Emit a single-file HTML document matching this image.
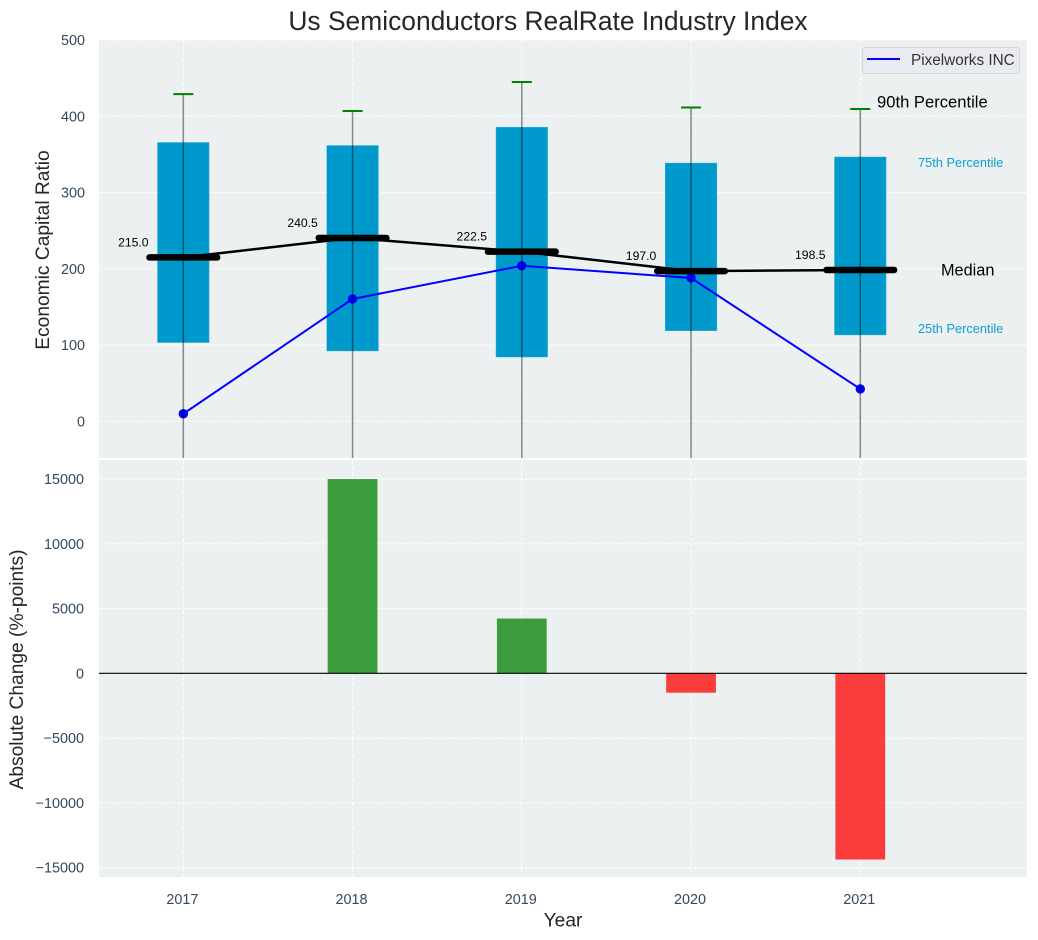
<!DOCTYPE html>
<html lang="en">
<head>
<meta charset="utf-8">
<title>Us Semiconductors RealRate Industry Index</title>
<style>
html,body{margin:0;padding:0;background:#fff;}
svg{display:block;font-family:"Liberation Sans",Arial,sans-serif;}
</style>
</head>
<body>
<svg id="chart" xmlns="http://www.w3.org/2000/svg" width="1038" height="940" viewBox="0 0 1038 940">
  <defs>
    <clipPath id="clip-top"><rect x="99" y="40" width="928" height="418"/></clipPath>
    <clipPath id="clip-bottom"><rect x="99" y="460" width="928" height="417"/></clipPath>
  </defs>
  <rect x="0" y="0" width="1038" height="940" fill="#ffffff"/>
  <rect x="99" y="40" width="928" height="418" fill="#ecf0f1"/>
  <rect x="99" y="460" width="928" height="417" fill="#ecf0f1"/>
  <g id="top-grid" clip-path="url(#clip-top)"></g>
  <g id="bottom-grid" clip-path="url(#clip-bottom)"></g>
  <g id="top-marks" clip-path="url(#clip-top)"></g>
  <g id="bottom-marks" clip-path="url(#clip-bottom)"></g>
  <g id="ticks"></g>

  <text x="548" y="30" text-anchor="middle" font-size="26.4" fill="#262626">Us Semiconductors RealRate Industry Index</text>
  <text transform="translate(49,250) rotate(-90)" text-anchor="middle" font-size="19.2" fill="#262626">Economic Capital Ratio</text>
  <text transform="translate(23,669.5) rotate(-90)" text-anchor="middle" font-size="19.2" fill="#262626">Absolute Change (%-points)</text>
  <text x="563" y="926.5" text-anchor="middle" font-size="19.2" fill="#262626">Year</text>

  <text x="877" y="107.5" font-size="16.6" fill="#000000">90th Percentile</text>
  <text x="918" y="167" font-size="12.8" fill="#0f9fd0">75th Percentile</text>
  <text x="941" y="275.5" font-size="16.3" fill="#000000">Median</text>
  <text x="918" y="333" font-size="12.8" fill="#0f9fd0">25th Percentile</text>

  <g>
    <rect x="862.5" y="47.5" width="157" height="26" rx="3" fill="#eaeaf2" stroke="#d6d6dc" stroke-width="1"/>
    <line x1="867" y1="59" x2="900" y2="59" stroke="#0000ff" stroke-width="2"/>
    <text x="911" y="65" font-size="15.3" fill="#333333">Pixelworks INC</text>
  </g>
</svg>
<script>
const years = [2017, 2018, 2019, 2020, 2021];
const p90 = [429, 407, 445, 411.5, 409.5];
const p75 = [366, 362, 386, 339, 347];
const median = [215.0, 240.5, 222.5, 197.0, 198.5];
const p25 = [103, 92, 84, 118.5, 113];
const p10 = [-100, -100, -100, -100, -100];
const company = [10, 160.5, 204, 188, 42.5];
const absChange = [0, 15000, 4230, -1500, -14380];
const topTicks = [0, 100, 200, 300, 400, 500];
const bottomTicks = [-15000, -10000, -5000, 0, 5000, 10000, 15000];

const SVG_NS = 'http://www.w3.org/2000/svg';
const X_MIN = 2016.5, X_MAX = 2021.985, X_LEFT = 98.7, X_RIGHT = 1027;
const TOP_MIN = -48, TOP_MAX = 500, TOP_BOTTOM_PX = 458, TOP_TOP_PX = 40;
const BOT_MIN = -15730, BOT_MAX = 16470, BOT_BOTTOM_PX = 877, BOT_TOP_PX = 460;
const PLOT_LEFT = 99, PLOT_RIGHT = 1027;

function xScale(v) { return X_LEFT + (v - X_MIN) / (X_MAX - X_MIN) * (X_RIGHT - X_LEFT); }
function yTop(v) { return TOP_BOTTOM_PX - (v - TOP_MIN) / (TOP_MAX - TOP_MIN) * (TOP_BOTTOM_PX - TOP_TOP_PX); }
function yBottom(v) { return BOT_BOTTOM_PX - (v - BOT_MIN) / (BOT_MAX - BOT_MIN) * (BOT_BOTTOM_PX - BOT_TOP_PX); }

function mk(tag, parent, attrs, text) {
  const el = document.createElementNS(SVG_NS, tag);
  for (const k in attrs) el.setAttribute(k, attrs[k]);
  if (text !== undefined) el.textContent = text;
  parent.appendChild(el);
  return el;
}

const topGrid = document.getElementById('top-grid');
const bottomGrid = document.getElementById('bottom-grid');
const topMarks = document.getElementById('top-marks');
const bottomMarks = document.getElementById('bottom-marks');
const ticksLayer = document.getElementById('ticks');
const gridStyle = { stroke: '#ffffff', 'stroke-width': 1.1, 'stroke-dasharray': '4 2', 'stroke-opacity': 0.85 };

topTicks.forEach(function (t) {
  const y = yTop(t);
  const g = mk('line', topGrid, Object.assign({ x1: PLOT_LEFT, x2: PLOT_RIGHT, y1: y, y2: y }, gridStyle));
  
  
  const l = mk('text', ticksLayer, { x: 85, y: y + 5, 'text-anchor': 'end', 'font-size': 14.4, fill: '#34495e' }, String(t));
  
  
});

bottomTicks.forEach(function (t) {
  const y = yBottom(t);
  const g = mk('line', bottomGrid, Object.assign({ x1: PLOT_LEFT, x2: PLOT_RIGHT, y1: y, y2: y }, gridStyle));
  
  
  const l = mk('text', ticksLayer, { x: 84, y: y + 5, 'text-anchor': 'end', 'font-size': 14.4, fill: '#34495e' }, String(t).replace('-', '\u2212'));
  
  
});

years.forEach(function (yr) {
  const x = xScale(yr);
  const g1 = mk('line', topGrid, Object.assign({ x1: x, x2: x, y1: TOP_TOP_PX, y2: TOP_BOTTOM_PX }, gridStyle));
  
  
  const g2 = mk('line', bottomGrid, Object.assign({ x1: x, x2: x, y1: BOT_TOP_PX, y2: BOT_BOTTOM_PX }, gridStyle));
  
  
  const l = mk('text', ticksLayer, { x: x - 1, y: 904, 'text-anchor': 'middle', 'font-size': 14.4, fill: '#34495e' }, String(yr));
  
  
});

const BOX_HALF = 0.154, MEDIAN_HALF = 0.2, BAR_HALF = 0.147, CAP_PX = 10;

/* interquartile boxes */
years.forEach(function (yr, i) {
  const x0 = xScale(yr - BOX_HALF), x1 = xScale(yr + BOX_HALF);
  const box = mk('rect', topMarks, {
    x: x0, y: yTop(p75[i]), width: x1 - x0, height: yTop(p25[i]) - yTop(p75[i]),
    fill: '#0099cc', stroke: '#ffffff', 'stroke-opacity': 0.25, 'stroke-width': 1
  });
  
  
});

/* median connecting line */
const medianLine = mk('polyline', topMarks, {
  points: years.map(function (yr, i) { return xScale(yr) + ',' + yTop(median[i]); }).join(' '),
  fill: 'none', stroke: '#000000', 'stroke-width': 2.5
});



/* company line */
const companyLine = mk('polyline', topMarks, {
  points: years.map(function (yr, i) { return xScale(yr) + ',' + yTop(company[i]); }).join(' '),
  fill: 'none', stroke: '#0000ff', 'stroke-width': 2
});



years.forEach(function (yr, i) {
  const x = xScale(yr);

  const med = mk('line', topMarks, {
    x1: xScale(yr - MEDIAN_HALF), x2: xScale(yr + MEDIAN_HALF), y1: yTop(median[i]), y2: yTop(median[i]),
    stroke: '#000000', 'stroke-width': 6.5, 'stroke-linecap': 'round'
  });
  
  

  const dot = mk('circle', topMarks, { cx: x, cy: yTop(company[i]), r: 4.7, fill: '#0000ff' });
  
  

  const whisker = mk('line', topMarks, {
    x1: x, x2: x, y1: yTop(p90[i]), y2: yTop(p10[i]),
    stroke: '#000000', 'stroke-opacity': 0.45, 'stroke-width': 1.5
  });
  
  

  const cap = mk('line', topMarks, {
    x1: x - CAP_PX, x2: x + CAP_PX, y1: yTop(p90[i]), y2: yTop(p90[i]),
    stroke: '#008000', 'stroke-width': 2
  });
  
  

  const label = mk('text', topMarks, {
    x: x - 50, y: yTop(median[i]) - 11, 'text-anchor': 'middle', 'font-size': 12.2, fill: '#000000'
  }, median[i].toFixed(1));
  
  

  if (absChange[i] !== 0) {
    const x0 = xScale(yr - BAR_HALF), x1 = xScale(yr + BAR_HALF);
    const y0 = yBottom(Math.max(absChange[i], 0)), y1 = yBottom(Math.min(absChange[i], 0));
    const bar = mk('rect', bottomMarks, {
      x: x0, y: y0, width: x1 - x0, height: y1 - y0,
      fill: absChange[i] >= 0 ? '#008000' : '#ff0000', 'fill-opacity': 0.75
    });
    
    
  }
});

const zero = mk('line', bottomMarks, {
  x1: PLOT_LEFT, x2: PLOT_RIGHT, y1: yBottom(0), y2: yBottom(0), stroke: '#000000', 'stroke-width': 1.2
});


</script>
</body>
</html>
